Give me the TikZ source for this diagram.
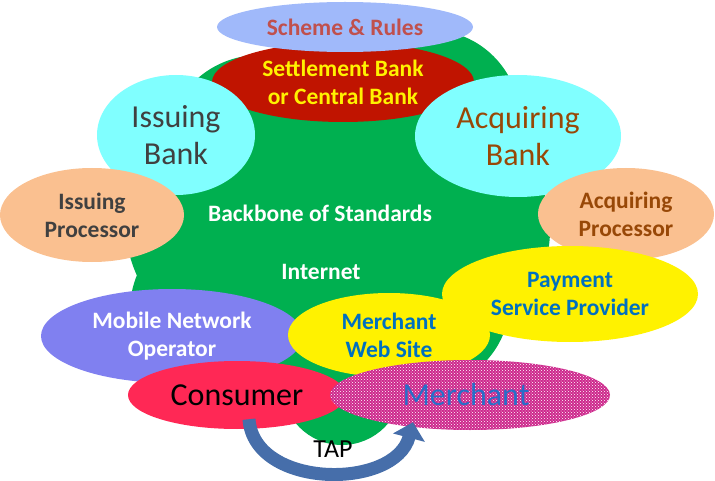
\documentclass[tikz,border=0pt]{standalone}
\usepackage{fontspec}
\setmainfont{Carlito}
\usetikzlibrary{shapes.geometric,patterns,arrows.meta}

\definecolor{backbone}{RGB}{0,176,80}
\definecolor{schemeblue}{RGB}{160,185,250}
\definecolor{schemetext}{RGB}{192,80,77}
\definecolor{settlered}{RGB}{192,20,0}
\definecolor{bankcyan}{RGB}{128,255,255}
\definecolor{bankgray}{RGB}{64,64,64}
\definecolor{acqbrown}{RGB}{152,72,7}
\definecolor{procpeach}{RGB}{250,192,144}
\definecolor{mnoblue}{RGB}{128,128,240}
\definecolor{pspblue}{RGB}{0,112,192}
\definecolor{consred}{RGB}{255,40,85}
\definecolor{merchpink}{RGB}{205,40,140}
\definecolor{merchtext}{RGB}{40,110,200}
\definecolor{tapblue}{RGB}{70,110,170}

\tikzset{
  party/.style={ellipse, inner sep=0pt, align=center},
  smalltext/.style={font=\bfseries\fontsize{23.5}{28}\selectfont},
  bigtext/.style={font=\fontsize{32}{37}\selectfont},
  taparrow/.style={draw=tapblue, line width=13pt, -{Triangle[width=32pt,length=16pt]}}
}

\begin{document}
\begin{tikzpicture}[x=1pt,y=1pt]
  \useasboundingbox (0,0) rectangle (715,480);
  % Backbone cloud
  \fill[backbone] (430,360) circle (90) (260,330) circle (95) (340,350) circle (100)
    (260,260) circle (135) (265,170) ellipse (135 and 110) (342,95) circle (60)
    (430,250) circle (120) (420,180) circle (90);
  \node[smalltext, text=white] (standards) at (320,267) {Backbone of Standards};
  \node[smalltext, text=white] (internet) at (321,208) {Internet};
  % Top of the scheme
  \node[party, fill=settlered, minimum width=262pt, minimum height=80pt, smalltext, text=yellow]
    (settle) at (343,398) {Settlement Bank\\or Central Bank};
  \node[party, fill=schemeblue, minimum width=256pt, minimum height=50pt, smalltext, text=schemetext]
    (scheme) at (345,453) {Scheme \& Rules};
  % Banks and processors
  \node[party, fill=bankcyan, minimum width=158pt, minimum height=120pt, bigtext, text=bankgray]
    (issbank) at (176,345) {Issuing\\Bank};
  \node[party, fill=bankcyan, minimum width=206pt, minimum height=122pt, bigtext, text=acqbrown]
    (acqbank) at (518,344) {Acquiring\\Bank};
  \node[party, fill=procpeach, minimum width=184pt, minimum height=94pt, smalltext, text=bankgray]
    (issproc) at (92,265) {Issuing\\Processor};
  \node[party, fill=procpeach, minimum width=176pt, minimum height=92pt, smalltext, text=acqbrown]
    (acqproc) at (626,266) {Acquiring\\Processor};
  % Providers
  \node[party, fill=mnoblue, minimum width=262pt, minimum height=94pt, smalltext, text=white]
    (mno) at (172,144) {Mobile Network\\Operator};
  \node[party, fill=yellow, minimum width=256pt, minimum height=96pt, smalltext, text=pspblue]
    (psp) at (570,186) {Payment\\Service Provider};
  \node[party, fill=yellow, minimum width=202pt, minimum height=84pt, smalltext, text=pspblue]
    (mws) at (389,145) {Merchant\\Web Site};
  % Consumer and merchant
  \node[party, fill=consred, minimum width=218pt, minimum height=68pt, bigtext, text=black]
    (consumer) at (237,85) {Consumer};
  \node[party, preaction={fill=merchpink}, pattern=crosshatch dots, pattern color=white,
    minimum width=280pt, minimum height=70pt, bigtext, text=merchtext]
    (merchant) at (470,85) {\hspace*{-8pt}Merchant};
  \draw[taparrow] ([xshift=12pt,yshift=10pt]consumer.south) .. controls +(5,-70) and +(-18,-68) ..
    ([xshift=-57pt,yshift=8pt]merchant.south);
  \node[font=\fontsize{26}{30}\selectfont] (tap) at (333,31) {TAP};
\end{tikzpicture}
\end{document}
